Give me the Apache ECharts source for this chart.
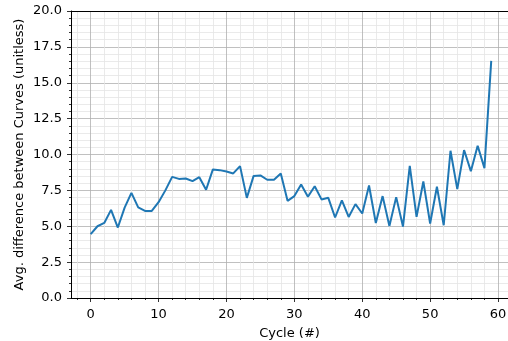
<!DOCTYPE html>
<html>
<head>
<meta charset="utf-8">
<script src="https://cdn.jsdelivr.net/npm/echarts@6/dist/echarts.min.js"></script>
<style>
html,body{margin:0;padding:0;background:#fff;}
#chart{width:508px;height:341px;}
</style>
</head>
<body>
<div id="chart"></div>
<script>
const cycles = Array.from({length: 60}, (_, i) => i);
const avgDiff = [4.45,5.0,5.23,6.14,4.91,6.3,7.33,6.31,6.07,6.07,
  6.68,7.5,8.44,8.3,8.33,8.14,8.42,7.54,8.96,8.91,
  8.82,8.68,9.19,6.98,8.51,8.54,8.24,8.24,8.68,6.77,
  7.1,7.91,7.05,7.79,6.87,6.98,5.61,6.8,5.65,6.54,
  5.89,7.84,5.23,7.1,5.02,7.03,4.98,9.21,5.65,8.12,
  5.19,7.75,5.07,10.26,7.59,10.31,8.84,10.61,9.05,16.52];
const xMajorTicks = [0,10,20,30,40,50,60];
const xMinorTicks = [-2,2,4,6,8,12,14,16,18,22,24,26,28,32,34,36,38,42,44,46,48,52,54,56,58];
const xTitle = 'Cycle (#)';
const yTitle = 'Avg. difference between Curves (unitless)';

const FONT = 'DejaVu Sans';
const XMIN = -2.90, XMAX = 61.47;
const chart = echarts.init(document.getElementById('chart'), null, {renderer: 'canvas'});
chart.setOption({
  animation: false,
  backgroundColor: '#fff',
  grid: {left: 71, right: 0, top: 11, bottom: 43, containLabel: false, outerBoundsMode: 'none'},
  xAxis: [
    {
      type: 'value', position: 'bottom', min: XMIN, max: XMAX,
      axisLine: {show: false},
      axisTick: {show: true, customValues: xMinorTicks, length: 2, lineStyle: {color: '#000', width: 0.8}},
      axisLabel: {show: false},
      splitLine: {show: true, lineStyle: {color: '#e4e4e4', width: 0.8}}
    },
    {
      type: 'value', position: 'bottom', min: XMIN, max: XMAX,
      name: xTitle, nameLocation: 'middle', nameGap: 29, nameMoveOverlap: false,
      nameTextStyle: {fontFamily: FONT, fontSize: 13, color: '#000'},
      axisLine: {show: true, onZero: false, lineStyle: {color: '#000', width: 1}},
      axisTick: {show: true, customValues: xMajorTicks, length: 4, lineStyle: {color: '#000', width: 0.8}},
      axisLabel: {show: true, customValues: xMajorTicks, margin: 10, fontFamily: FONT, fontSize: 13, color: '#000'},
      splitLine: {show: true, lineStyle: {color: '#b0b0b0', width: 0.8}}
    },
    {
      type: 'value', position: 'top', min: XMIN, max: XMAX,
      axisLine: {show: true, onZero: false, lineStyle: {color: '#000', width: 1}},
      axisTick: {show: false}, axisLabel: {show: false}, splitLine: {show: false}
    }
  ],
  yAxis: {
    type: 'value', min: 0, max: 20, interval: 2.5,
    name: yTitle, nameLocation: 'middle', nameGap: 45, nameMoveOverlap: false,
    nameTextStyle: {fontFamily: FONT, fontSize: 13, color: '#000'},
    axisLine: {show: true, onZero: false, lineStyle: {color: '#000', width: 1}},
    axisTick: {show: true, length: 4, lineStyle: {color: '#000', width: 0.8}},
    minorTick: {show: true, splitNumber: 5, length: 2, lineStyle: {color: '#000', width: 0.8}},
    minorSplitLine: {show: true, lineStyle: {color: '#e4e4e4', width: 0.8}},
    axisLabel: {margin: 9, fontFamily: FONT, fontSize: 13, color: '#000', formatter: v => v.toFixed(1)},
    splitLine: {show: true, lineStyle: {color: '#b0b0b0', width: 0.8}}
  },
  series: [{
    type: 'line', xAxisIndex: 1,
    data: cycles.map((c, i) => [c, avgDiff[i]]),
    showSymbol: false, symbol: 'none',
    lineStyle: {color: '#1f77b4', width: 2},
    itemStyle: {color: '#1f77b4'},
    z: 5
  }]
});
</script>
</body>
</html>
